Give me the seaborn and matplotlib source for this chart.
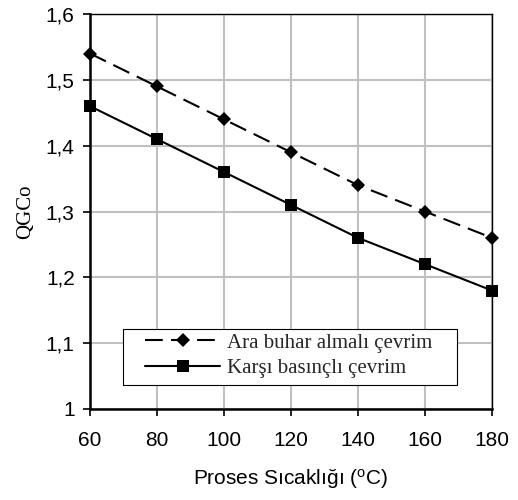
import matplotlib
matplotlib.use("Agg")
import matplotlib.pyplot as plt
import seaborn as sns
import pandas as pd
from matplotlib.lines import Line2D
from matplotlib.patches import Rectangle

# Process temperature (°C) and QGCo for the two cycle types
temperature = [60, 80, 100, 120, 140, 160, 180]
ara_buhar = [1.54, 1.49, 1.44, 1.39, 1.34, 1.30, 1.26]
karsi_basinc = [1.46, 1.41, 1.36, 1.31, 1.26, 1.22, 1.18]
series_names = ["Ara buhar almalı çevrim", "Karşı basınçlı çevrim"]
x_ticks = [60, 80, 100, 120, 140, 160, 180]
y_ticks = [1.0, 1.1, 1.2, 1.3, 1.4, 1.5, 1.6]
y_tick_labels = ["1", "1,1", "1,2", "1,3", "1,4", "1,5", "1,6"]

sns.set_theme(style="white")
plt.rcParams["font.family"] = ["Liberation Sans", "DejaVu Sans"]
plt.rcParams["mathtext.fontset"] = "custom"
plt.rcParams["mathtext.rm"] = "Liberation Sans"
plt.rcParams["mathtext.it"] = "Liberation Sans"

df = pd.DataFrame({
    "T": temperature * 2,
    "Q": ara_buhar + karsi_basinc,
    "seri": [series_names[0]] * len(temperature) + [series_names[1]] * len(temperature),
})

DASH = (8.5, 4)
LW = 1.5
DIAMOND_SIZE = 7.5
SQUARE_SIZE = 9

fig = plt.figure(figsize=(5.18, 5.0), dpi=100)
ax = fig.add_axes([0.1737, 0.182, 0.776, 0.79])

sns.lineplot(
    data=df, x="T", y="Q", hue="seri", style="seri",
    palette=["black", "black"],
    dashes={series_names[0]: DASH, series_names[1]: ""},
    markers={series_names[0]: "D", series_names[1]: "s"},
    markersize=SQUARE_SIZE, linewidth=LW, markeredgewidth=0,
    ax=ax, clip_on=False, legend=False,
)
ax.lines[0].set_markersize(DIAMOND_SIZE)

ax.set_xlim(60, 180)
ax.set_ylim(1.0, 1.6)
ax.set_xticks(x_ticks)
ax.set_yticks(y_ticks)
ax.set_yticklabels(y_tick_labels)
ax.tick_params(axis="both", which="major", labelsize=15, direction="out",
               length=5, width=1.2, color="black", left=True, bottom=True,
               labelcolor="black")
ax.tick_params(axis="y", pad=6)
ax.tick_params(axis="x", pad=11)
ax.grid(True, color="#c0c0c0", linewidth=1.5)
ax.set_axisbelow(True)

for side in ["left", "bottom"]:
    ax.spines[side].set_linewidth(1.8)
    ax.spines[side].set_color("black")
for side in ["top", "right"]:
    ax.spines[side].set_linewidth(1.0)
    ax.spines[side].set_color("black")

ax.set_ylabel("QGCo", family=["Liberation Serif"], fontsize=15, labelpad=8,
              color="black")
ax.set_xlabel(r"Proses Sıcaklığı ($^{\rm o}$C)", fontsize=15, labelpad=12,
              color="black")

# legend frame drawn as a box, entries placed inside it
ax.add_patch(Rectangle((0.082, 0.061), 0.831, 0.1415, transform=ax.transAxes,
                       facecolor="white", edgecolor="black", linewidth=0.8,
                       zorder=4, clip_on=False))
handles = [
    Line2D([], [], color="black", linestyle=(0, DASH), linewidth=LW,
           marker="D", markersize=DIAMOND_SIZE, markeredgewidth=0),
    Line2D([], [], color="black", linestyle="-", linewidth=LW,
           marker="s", markersize=SQUARE_SIZE, markeredgewidth=0),
]
leg = ax.legend(handles, series_names, loc="center left",
                bbox_to_anchor=(0.137, 0.135),
                prop={"family": "Liberation Serif", "size": 15},
                frameon=False, handlelength=3.6, handletextpad=0.35,
                borderpad=0, labelspacing=0.3, borderaxespad=0)
leg.set_zorder(5)

fig.savefig("out.png", dpi=100)
